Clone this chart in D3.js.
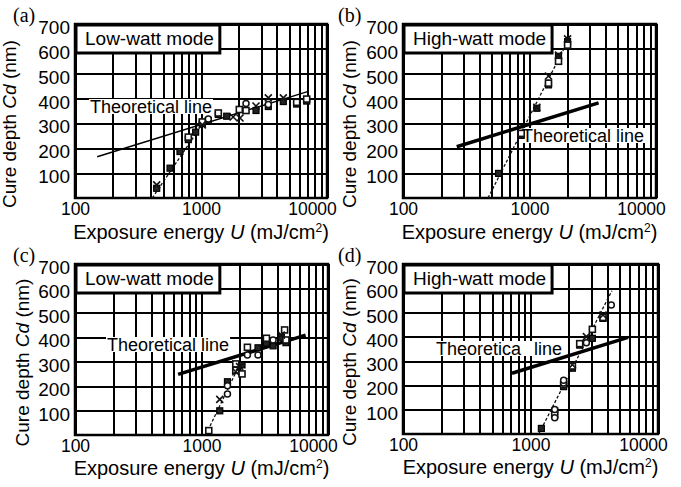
<!DOCTYPE html>
<head>
<meta charset="utf-8">
<script src="https://d3js.org/d3.v7.min.js"></script>
<style>
  body { margin: 0; background: #fff; }
  svg { font-family: "Liberation Sans", Arial, sans-serif; }
  .grid line { stroke: #000; stroke-width: 2; shape-rendering: crispEdges; }
  .grid path { display: none; }
  .grid text { fill: #000; font-family: "Liberation Sans", Arial, sans-serif; }
</style>
</head>
<body>
<div id="chart"></div>
<script>
// exposure energy U (mJ/cm2) vs cure depth Cd (nm)
var yTicks = [100, 200, 300, 400, 500, 600, 700];
var xTickLabels = [100, 1000, 10000];

// (a) low-watt
var aFilled = [[445,39],[568,120],[681,187],[793,235],[907,265],[1024,300],[1143,312],[1372,336],[1600,329],[2733,352],[3422,368],[4500,388],[5745,378],[6900,390]];
var aSquare = [[793,245],[1024,306],[1372,342],[2014,356],[2276,352],[5745,385],[6900,398]];
var aCircle = [[1143,318],[2276,380],[3422,376]];
var aCross  = [[445,53],[1024,294],[1800,326],[2040,322],[2733,370],[3422,403],[4500,403]];
var aTheory = [[150,166],[7000,428]];
var aFit    = [[410,0],[1100,320]];

// (b) high-watt
var bFilled = [[569,99],[860,252],[1143,361],[1413,455],[1696,570],[2000,629]];
var bSquare = [[860,260],[1413,462],[1696,550],[2000,615]];
var bCircle = [];
var bCross  = [[1143,365],[1413,491],[1696,575],[2000,640]];
var bTheory = [[266,206],[3518,383]];
var bFit    = [[470,0],[2050,640]];

// (c) low-watt
var cFilled = [[1394,99],[1604,218],[2091,287],[2797,357],[3260,376],[3680,365],[4277,400],[4650,378]];
var cSquare = [[1142,18],[1866,291],[1866,265],[2091,250],[2307,359],[3260,396],[4540,430],[4650,389]];
var cCircle = [[1604,168],[1604,202],[2307,327],[2797,327],[3680,389]];
var cCross  = [[1394,146],[1866,259],[2000,280],[4277,409]];
var cTheory = [[653,248],[6655,409]];
var cFit    = [[1080,0],[2050,300]];

// (d) high-watt
var dFilled = [[1217,23],[1549,95],[1820,195],[2131,271],[2432,366],[3056,394],[3704,476]];
var dSquare = [[1549,80],[1820,205],[2131,280],[2432,372],[3056,431],[3704,480]];
var dCircle = [[1549,67],[1549,101],[1820,210],[1820,221],[2744,376],[4300,531]];
var dCross  = [[2131,285],[2744,401],[3704,490]];
var dTheory = [[716,250],[5821,398]];
var dFit    = [[1160,0],[4350,590]];

var panels = [
  {tag:'(a)', mode:'Low-watt mode',  x:75,  y:24,  w:252, h:174, tag_x:13,  ylab_x:16,  theoryText:'Theoretical line', tx:15,  ty:89, thick:1.5,
   filled:aFilled, square:aSquare, circle:aCircle, cross:aCross, theory:aTheory, fit:aFit, titleDy:41},
  {tag:'(b)', mode:'High-watt mode', x:403, y:24,  w:253, h:174, tag_x:338, ylab_x:356, theoryText:'Theoretical line', tx:119, ty:118, thick:3.5,
   filled:bFilled, square:bSquare, circle:bCircle, cross:bCross, theory:bTheory, fit:bFit, titleDy:41},
  {tag:'(c)', mode:'Low-watt mode',  x:75,  y:264, w:253, h:171, tag_x:13,  ylab_x:29,  theoryText:'Theoretical line', tx:32,  ty:87, thick:3.5,
   filled:cFilled, square:cSquare, circle:cCircle, cross:cCross, theory:cTheory, fit:cFit, titleDy:40},
  {tag:'(d)', mode:'High-watt mode', x:403, y:264, w:255, h:170, tag_x:338, ylab_x:356, theoryText:'Theoretica line', tx:33,  ty:91, thick:3.5,
   filled:dFilled, square:dSquare, circle:dCircle, cross:dCross, theory:dTheory, fit:dFit, titleDy:40}
];

var svg = d3.select('#chart').append('svg')
    .attr('width', 681)
    .attr('height', 487);

panels.forEach(function(p) {
  var g = svg.append('g').attr('transform', 'translate(' + p.x + ',' + p.y + ')');

  var x = d3.scaleLog().domain([100, 10000]).range([0, p.w]);
  var y = d3.scaleLinear().domain([0, 700]).range([p.h, 0]);

  // vertical grid + x labels
  var xAxis = d3.axisBottom(x)
      .tickValues(x.ticks())
      .tickSize(-p.h)
      .tickPadding(5)
      .tickFormat(function(d) { return xTickLabels.indexOf(d) >= 0 ? d : ''; });
  var gx = g.append('g').attr('class', 'grid').attr('transform', 'translate(0,' + p.h + ')').call(xAxis);
  gx.selectAll('text').attr('font-size', 17.5)
    .attr('dx', function(d) { return d === 10000 ? -15 : 0; });

  // horizontal grid + y labels
  var yAxis = d3.axisLeft(y)
      .tickValues(yTicks)
      .tickSize(-p.w)
      .tickPadding(5);
  var gy = g.append('g').attr('class', 'grid').call(yAxis);
  gy.selectAll('text').attr('font-size', 19).attr('dy', '0.5em');

  // frame
  g.append('rect')
    .attr('width', p.w).attr('height', p.h)
    .attr('fill', 'none').attr('stroke', '#000').attr('stroke-width', 2.5);

  // theoretical line label with white patch under it
  var tl = g.append('text')
    .attr('x', p.tx).attr('y', p.ty)
    .attr('font-size', 18)
    .attr('word-spacing', p.tag === '(d)' ? 8 : 0)
    .text(p.theoryText);
  var bb = tl.node().getBBox();
  g.insert('rect', function() { return tl.node(); })
    .attr('x', bb.x - 1).attr('y', bb.y + 2)
    .attr('width', bb.width + 2).attr('height', bb.height - 5)
    .attr('fill', '#fff');

  var line = d3.line().x(function(d) { return x(d[0]); }).y(function(d) { return y(d[1]); });

  g.append('path').datum(p.fit)
    .attr('d', line).attr('fill', 'none')
    .attr('stroke', '#111').attr('stroke-width', 1.3).attr('stroke-dasharray', '3,2');

  g.append('path').datum(p.theory)
    .attr('d', line).attr('fill', 'none')
    .attr('stroke', '#000').attr('stroke-width', p.thick);

  // markers
  var s = 6;
  g.selectAll('.fsq').data(p.filled).enter().append('rect')
    .attr('x', function(d) { return x(d[0]) - s / 2; })
    .attr('y', function(d) { return y(d[1]) - s / 2; })
    .attr('width', s).attr('height', s)
    .attr('fill', '#222').attr('stroke', '#000').attr('stroke-width', 1.2);

  g.selectAll('.osq').data(p.square).enter().append('rect')
    .attr('x', function(d) { return x(d[0]) - s / 2; })
    .attr('y', function(d) { return y(d[1]) - s / 2; })
    .attr('width', s).attr('height', s)
    .attr('fill', '#fff').attr('stroke', '#111').attr('stroke-width', 1.6);

  g.selectAll('.circ').data(p.circle).enter().append('circle')
    .attr('cx', function(d) { return x(d[0]); })
    .attr('cy', function(d) { return y(d[1]); })
    .attr('r', 3)
    .attr('fill', '#fff').attr('stroke', '#111').attr('stroke-width', 1.5);

  g.selectAll('.crs').data(p.cross).enter().append('path')
    .attr('d', function(d) {
      var cx = x(d[0]), cy = y(d[1]), r = 3.5;
      return 'M' + (cx - r) + ',' + (cy - r) + 'L' + (cx + r) + ',' + (cy + r) +
             'M' + (cx - r) + ',' + (cy + r) + 'L' + (cx + r) + ',' + (cy - r);
    })
    .attr('stroke', '#111').attr('stroke-width', 1.6).attr('fill', 'none');

  // mode box
  var mt = g.append('text')
    .attr('x', 10).attr('y', 21)
    .attr('font-size', 19)
    .text(p.mode);
  var mb = mt.node().getBBox();
  g.insert('rect', function() { return mt.node(); })
    .attr('x', 1).attr('y', 1)
    .attr('width', mb.width + 15).attr('height', 28)
    .attr('fill', '#fff').attr('stroke', '#000').attr('stroke-width', 3);

  // panel tag
  svg.append('text')
    .attr('x', p.tag_x).attr('y', p.y - 2)
    .attr('font-family', '"Liberation Serif", "Times New Roman", serif')
    .attr('font-size', 20)
    .text(p.tag);

  // y title
  var yt = svg.append('text')
    .attr('transform', 'translate(' + p.ylab_x + ',' + (p.y + p.h / 2 + 13) + ') rotate(-90)')
    .attr('text-anchor', 'middle')
    .attr('font-size', 19);
  yt.append('tspan').text('Cure depth ');
  yt.append('tspan').attr('font-style', 'italic').text('Cd');
  yt.append('tspan').text(' (nm)');

  // x title
  var xt = svg.append('text')
    .attr('x', p.x + p.w / 2).attr('y', p.y + p.h + p.titleDy)
    .attr('text-anchor', 'middle')
    .attr('font-size', 20);
  xt.append('tspan').text('Exposure energy ');
  xt.append('tspan').attr('font-style', 'italic').text('U');
  xt.append('tspan').text(' (mJ/cm');
  xt.append('tspan').attr('font-size', 12).attr('dy', -7).text('2');
  xt.append('tspan').attr('dy', 7).text(')');
});
</script>
</body>
